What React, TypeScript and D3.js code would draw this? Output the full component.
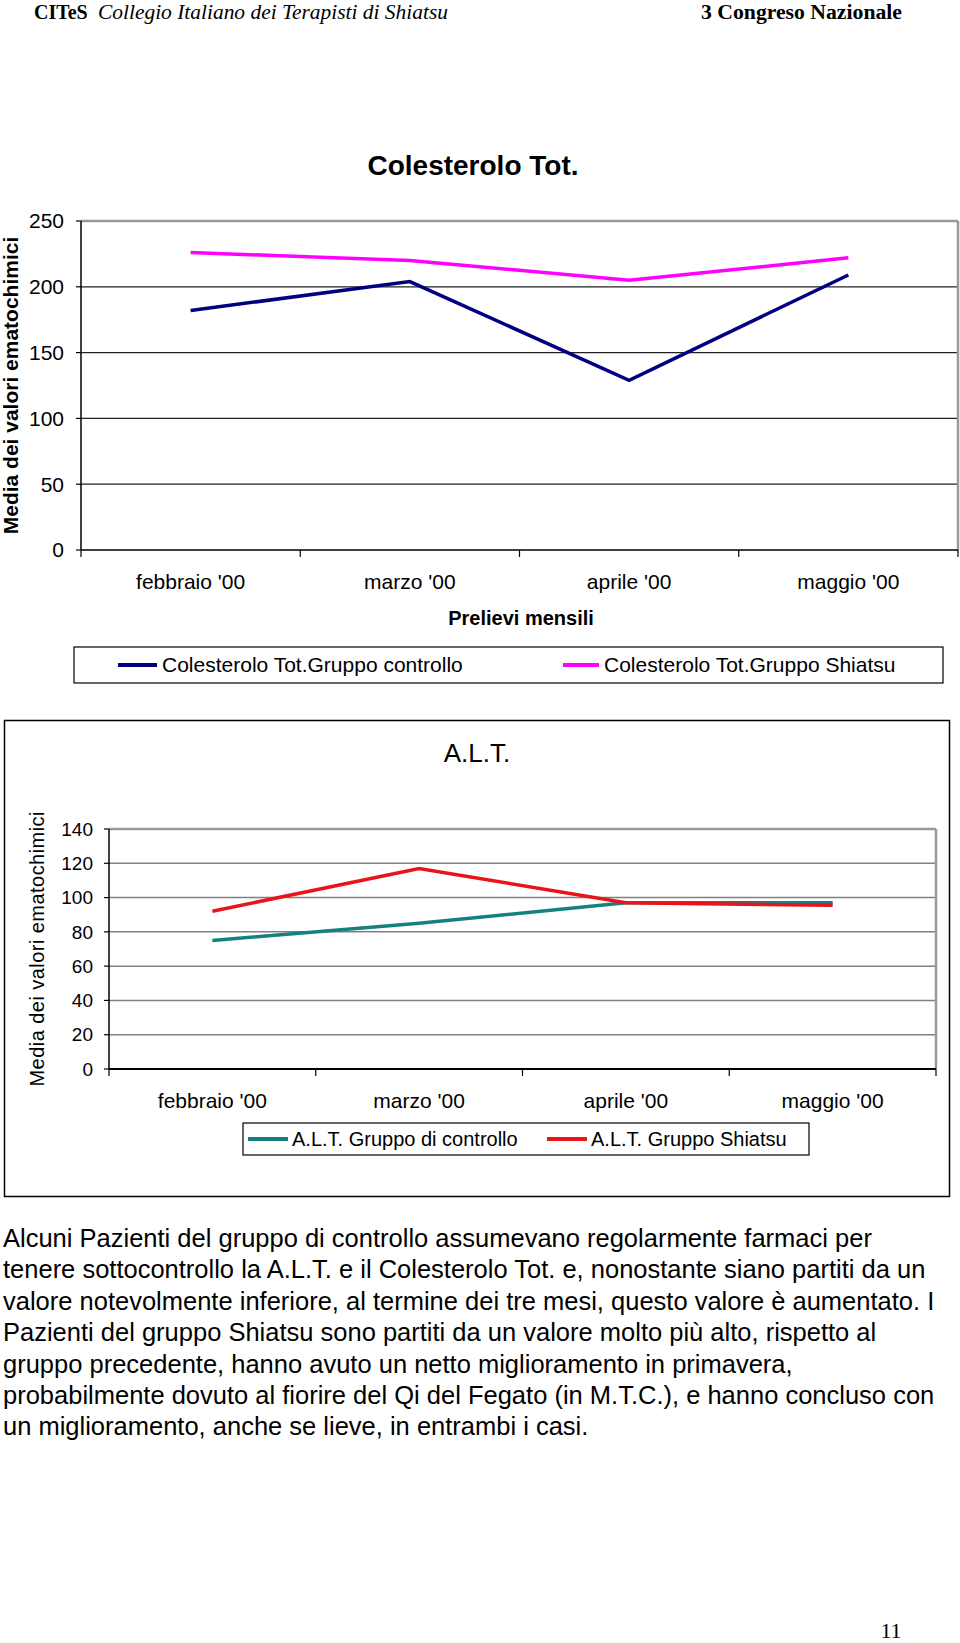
import React from "react";
import * as d3 from "d3";

const months = ["febbraio '00", "marzo '00", "aprile '00", "maggio '00"];
const colControl = [182, 204, 129, 209];
const colShiatsu = [226, 220, 205, 222];
const colTicks = [0, 50, 100, 150, 200, 250];
const altControl = [75, 85, 97, 97];
const altShiatsu = [92, 117, 97, 95.5];
const altTicks = [0, 20, 40, 60, 80, 100, 120, 140];

const colTitle = "Colesterolo Tot.";
const altTitle = "A.L.T.";
const yTitle = "Media dei valori ematochimici";
const xTitle = "Prelievi mensili";
const colLegend = ["Colesterolo Tot.Gruppo controllo", "Colesterolo Tot.Gruppo Shiatsu"];
const altLegend = ["A.L.T. Gruppo di controllo", "A.L.T. Gruppo Shiatsu"];

const paragraph = [
  "Alcuni Pazienti del gruppo di controllo assumevano regolarmente farmaci per",
  "tenere sottocontrollo la A.L.T. e il Colesterolo Tot. e, nonostante siano partiti da un",
  "valore notevolmente inferiore, al termine dei tre mesi, questo valore è aumentato. I",
  "Pazienti del gruppo Shiatsu sono partiti da un valore molto più alto, rispetto al",
  "gruppo precedente, hanno avuto un netto miglioramento in primavera,",
  "probabilmente dovuto al fiorire del Qi del Fegato (in M.T.C.), e hanno concluso con",
  "un miglioramento, anche se lieve, in entrambi i casi.",
];

const SANS = "'Liberation Sans', Arial, sans-serif";
const SERIF = "'Liberation Serif', 'Times New Roman', serif";

export default function App() {
  // Chart 1
  const x1 = d3.scaleBand<string>().domain(months).range([81, 958]);
  const y1 = d3.scaleLinear().domain([0, 250]).range([550, 221]);
  const line1 = d3
    .line<number>()
    .x((_, i) => (x1(months[i]) as number) + x1.bandwidth() / 2)
    .y((d) => y1(d));

  // Chart 2
  const x2 = d3.scaleBand<string>().domain(months).range([109, 936]);
  const y2 = d3.scaleLinear().domain([0, 140]).range([1069, 829]);
  const line2 = d3
    .line<number>()
    .x((_, i) => (x2(months[i]) as number) + x2.bandwidth() / 2)
    .y((d) => y2(d));

  const bounds1 = [...months.map((m) => x1(m) as number), x1.range()[1]];
  const bounds2 = [...months.map((m) => x2(m) as number), x2.range()[1]];

  return (
    <svg
      width={960}
      height={1643}
      style={{ position: "absolute", left: 0, top: 0, background: "#fff" }}
    >
      <rect x={0} y={0} width={960} height={1643} fill="#fff" />
      {/* Header */}
      <text x={34} y={18.5} fontFamily={SERIF} fontWeight="bold" fontSize={20}>
        CITeS
      </text>
      <text x={98} y={18.5} fontFamily={SERIF} fontStyle="italic" fontSize={20} textLength={350} lengthAdjust="spacingAndGlyphs">
        Collegio Italiano dei Terapisti di Shiatsu
      </text>
      <text x={701} y={18.5} fontFamily={SERIF} fontWeight="bold" fontSize={20} textLength={201} lengthAdjust="spacingAndGlyphs">
        3 Congreso Nazionale
      </text>

      {/* Chart 1 */}
      <text x={473} y={175} fontFamily={SANS} fontWeight="bold" fontSize={28} textAnchor="middle">
        {colTitle}
      </text>
      <text
        transform={`translate(18,${y1(125)}) rotate(-90)`}
        fontFamily={SANS}
        fontWeight="bold"
        fontSize={21}
        textAnchor="middle"
      >
        {yTitle}
      </text>
      {colTicks.map((t) => (
        <g key={"g1" + t}>
          {t > 0 && t < 250 && (
            <line x1={81} x2={958} y1={y1(t)} y2={y1(t)} stroke="#222" strokeWidth={1.2} />
          )}
          <line x1={76} x2={81} y1={y1(t)} y2={y1(t)} stroke="#000" strokeWidth={1.2} />
          <text x={64} y={y1(t)} dy="0.35em" fontFamily={SANS} fontSize={21} textAnchor="end">
            {t}
          </text>
        </g>
      ))}
      <line x1={81} x2={958} y1={y1(250)} y2={y1(250)} stroke="#999" strokeWidth={2.5} />
      <line x1={958} x2={958} y1={y1(250)} y2={y1(0)} stroke="#999" strokeWidth={2.5} />
      <line x1={81} x2={81} y1={y1(250)} y2={y1(0)} stroke="#000" strokeWidth={1.5} />
      <line x1={81} x2={958} y1={y1(0)} y2={y1(0)} stroke="#000" strokeWidth={1.5} />
      {bounds1.map((b, i) => (
        <line key={"tb1" + i} x1={b} x2={b} y1={550} y2={557} stroke="#000" strokeWidth={1.2} />
      ))}
      {months.map((m) => (
        <text
          key={"xl1" + m}
          x={(x1(m) as number) + x1.bandwidth() / 2}
          y={582}
          dy="0.35em"
          fontFamily={SANS}
          fontSize={21}
          textAnchor="middle"
        >
          {m}
        </text>
      ))}
      <text x={521} y={618} dy="0.35em" fontFamily={SANS} fontWeight="bold" fontSize={20} textAnchor="middle">
        {xTitle}
      </text>
      <path d={line1(colShiatsu) as string} fill="none" stroke="#ff00ff" strokeWidth={3.5} />
      <path d={line1(colControl) as string} fill="none" stroke="#000080" strokeWidth={3.5} />

      {/* Legend 1 */}
      <rect x={74} y={647} width={869} height={36} fill="#fff" stroke="#000" strokeWidth={1.2} />
      <line x1={118} x2={157} y1={665} y2={665} stroke="#000080" strokeWidth={4} />
      <text x={162} y={665} dy="0.35em" fontFamily={SANS} fontSize={21}>
        {colLegend[0]}
      </text>
      <line x1={563} x2={599} y1={665} y2={665} stroke="#ff00ff" strokeWidth={4} />
      <text x={604} y={665} dy="0.35em" fontFamily={SANS} fontSize={21}>
        {colLegend[1]}
      </text>

      {/* Chart 2 */}
      <rect x={4.5} y={720.5} width={945} height={476} fill="#fff" stroke="#000" strokeWidth={1.5} />
      <text x={477} y={753} dy="0.35em" fontFamily={SANS} fontSize={26} textAnchor="middle">
        {altTitle}
      </text>
      <text
        transform={`translate(37,${(829 + 1069) / 2}) rotate(-90)`}
        dy="0.35em"
        fontFamily={SANS}
        fontSize={20}
        textAnchor="middle"
        textLength={275}
        lengthAdjust="spacing"
      >
        {yTitle}
      </text>
      {altTicks.map((t) => (
        <g key={"g2" + t}>
          {t > 0 && t < 140 && (
            <line x1={109} x2={936} y1={y2(t)} y2={y2(t)} stroke="#808080" strokeWidth={1.5} />
          )}
          <line x1={104} x2={109} y1={y2(t)} y2={y2(t)} stroke="#000" strokeWidth={1.2} />
          <text x={93} y={y2(t)} dy="0.35em" fontFamily={SANS} fontSize={19} textAnchor="end">
            {t}
          </text>
        </g>
      ))}
      <line x1={109} x2={936} y1={y2(140)} y2={y2(140)} stroke="#999" strokeWidth={2.5} />
      <line x1={936} x2={936} y1={y2(140)} y2={y2(0)} stroke="#999" strokeWidth={2.5} />
      <line x1={109} x2={109} y1={y2(140)} y2={y2(0)} stroke="#000" strokeWidth={1.5} />
      <line x1={109} x2={936} y1={y2(0)} y2={y2(0)} stroke="#000" strokeWidth={1.8} />
      {bounds2.map((b, i) => (
        <line key={"tb2" + i} x1={b} x2={b} y1={1069} y2={1076} stroke="#000" strokeWidth={1.2} />
      ))}
      {months.map((m) => (
        <text
          key={"xl2" + m}
          x={(x2(m) as number) + x2.bandwidth() / 2}
          y={1101}
          dy="0.35em"
          fontFamily={SANS}
          fontSize={21}
          textAnchor="middle"
        >
          {m}
        </text>
      ))}
      <path d={line2(altControl) as string} fill="none" stroke="#168080" strokeWidth={3.5} />
      <path d={line2(altShiatsu) as string} fill="none" stroke="#e8141a" strokeWidth={3.5} />

      {/* Legend 2 */}
      <rect x={243} y={1123} width={566} height={32} fill="#fff" stroke="#000" strokeWidth={1.2} />
      <line x1={248} x2={288} y1={1139} y2={1139} stroke="#168080" strokeWidth={4} />
      <text x={292} y={1139} dy="0.35em" fontFamily={SANS} fontSize={20}>
        {altLegend[0]}
      </text>
      <line x1={547} x2={587} y1={1139} y2={1139} stroke="#e8141a" strokeWidth={4} />
      <text x={591} y={1139} dy="0.35em" fontFamily={SANS} fontSize={20}>
        {altLegend[1]}
      </text>

      {/* Paragraph */}
      {paragraph.map((l, i) => (
        <text key={"p" + i} x={3} y={1238 + i * 31.4} dy="0.35em" fontFamily={SANS} fontSize={25.5}>
          {l}
        </text>
      ))}

      <text x={891} y={1638} fontFamily={SERIF} fontSize={22} textAnchor="middle">
        11
      </text>
    </svg>
  );
}
